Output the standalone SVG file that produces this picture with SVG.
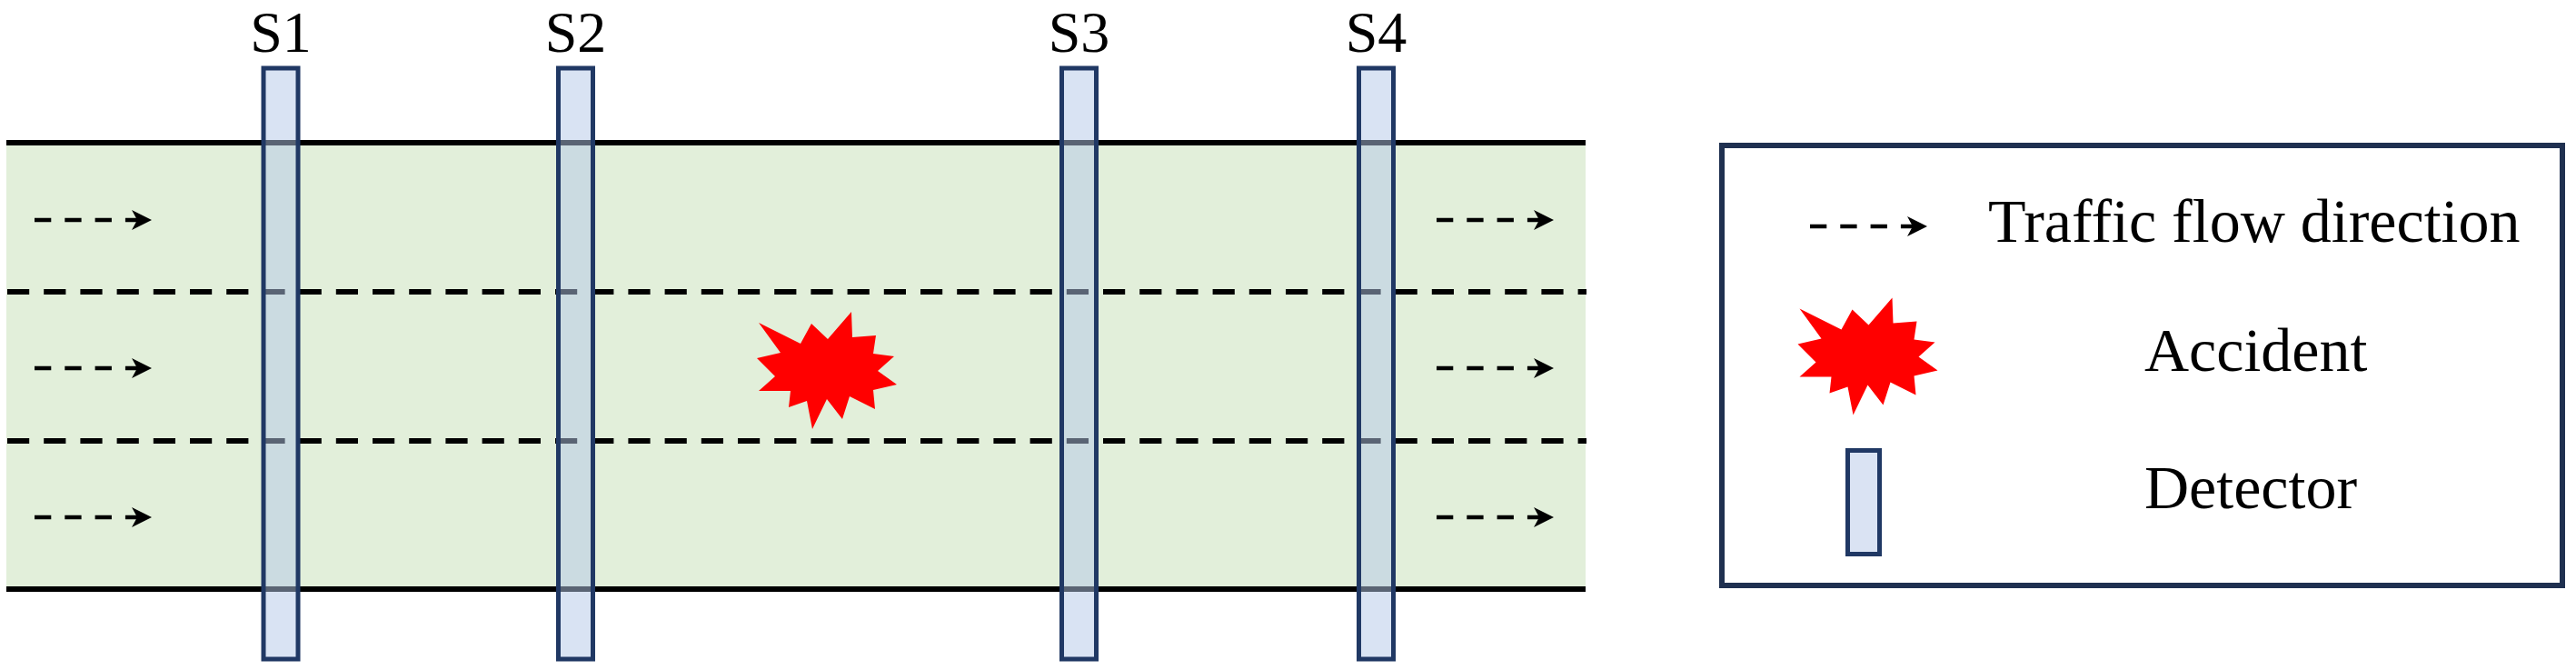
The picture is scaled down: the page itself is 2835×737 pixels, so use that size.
<svg xmlns="http://www.w3.org/2000/svg" xmlns:xlink="http://www.w3.org/1999/xlink" width="2835" height="737" viewBox="0 0 2835 737">
  <style>
    .edge { stroke: #000; stroke-width: 6; fill: none; }
    .lane { stroke: #000; stroke-width: 6; stroke-dasharray: 24.2 16; fill: none; }
    .flow { stroke: #000; stroke-width: 4.5; stroke-dasharray: 18.3 15; fill: none; }
    .det { fill: #b4c7e7; fill-opacity: 0.5; stroke: #203864; stroke-width: 5; }
    .lbl { font-family: 'Liberation Serif', 'Times New Roman', serif; font-size: 68px; fill: #000; }
    .slbl { font-family: 'Liberation Serif', 'Times New Roman', serif; font-size: 64px; fill: #000; }
    .star { fill: #ff0000; }
  </style>
  <defs>
    <g id="flowArrow">
      <line class="flow" x1="0" y1="0" x2="116" y2="0"/>
      <path d="M129,0 L107,-11 L113,0 L107,11 Z" fill="#000"/>
    </g>
    <polygon id="starShape" class="star" points="835,355 881,378 893,356 911,373 937,343 938,371 964,369 961,389 984,392 966,408 987,423 961,429 963,450 935,436 927,461 910,439 894,472 888,441 868,448 870,430 835,430 853,414 833,394 859,388"/>
  </defs>

  <rect width="2835" height="737" fill="#fff"/>

  <g id="road">
    <rect x="7" y="157" width="1738" height="491" fill="#e2efda"/>
    <line class="edge" x1="7" y1="157" x2="1745" y2="157"/>
    <line class="edge" x1="7" y1="648" x2="1745" y2="648"/>
    <line class="lane" x1="8" y1="321" x2="1746" y2="321"/>
    <line class="lane" x1="8" y1="485" x2="1746" y2="485"/>
  </g>

  <g id="connectors">
    <use xlink:href="#flowArrow" transform="translate(38,242)"/>
    <use xlink:href="#flowArrow" transform="translate(38,405)"/>
    <use xlink:href="#flowArrow" transform="translate(38,569)"/>
    <use xlink:href="#flowArrow" transform="translate(1581,242)"/>
    <use xlink:href="#flowArrow" transform="translate(1581,405)"/>
    <use xlink:href="#flowArrow" transform="translate(1581,569)"/>
  </g>

  <g id="accident">
    <use xlink:href="#starShape"/>
  </g>

  <g id="detector-s1">
    <rect class="det" x="290" y="75" width="38" height="650"/>
    <text class="slbl" font-family="Liberation Serif, serif" x="309" y="57" text-anchor="middle">S1</text>
  </g>
  <g id="detector-s2">
    <rect class="det" x="614.5" y="75" width="38" height="650"/>
    <text class="slbl" font-family="Liberation Serif, serif" x="633.5" y="57" text-anchor="middle">S2</text>
  </g>
  <g id="detector-s3">
    <rect class="det" x="1168.5" y="75" width="38" height="650"/>
    <text class="slbl" font-family="Liberation Serif, serif" x="1187.5" y="57" text-anchor="middle">S3</text>
  </g>
  <g id="detector-s4">
    <rect class="det" x="1495.5" y="75" width="38" height="650"/>
    <text class="slbl" font-family="Liberation Serif, serif" x="1514.5" y="57" text-anchor="middle">S4</text>
  </g>

  <g id="legend">
    <rect x="1895" y="160" width="925" height="484" fill="#fff" stroke="#1f3050" stroke-width="6"/>
    <g id="legend-flow">
      <use xlink:href="#flowArrow" transform="translate(1992,249)"/>
      <text class="lbl" font-family="Liberation Serif, serif" x="2188" y="266">Traffic flow direction</text>
    </g>
    <g id="legend-accident">
      <use xlink:href="#starShape" transform="translate(1145.5,-15.5)"/>
      <text class="lbl" font-family="Liberation Serif, serif" x="2360" y="408">Accident</text>
    </g>
    <g id="legend-detector">
      <rect x="2033.5" y="495.5" width="35" height="114" fill="#dae3f3" stroke="#203864" stroke-width="5"/>
      <text class="lbl" font-family="Liberation Serif, serif" x="2360" y="559">Detector</text>
    </g>
  </g>
</svg>
